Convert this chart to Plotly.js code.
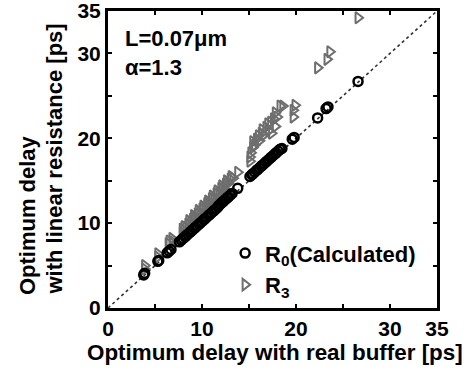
<!DOCTYPE html>
<html>
<head>
<meta charset="utf-8">
<script src="https://cdn.plot.ly/plotly-3.0.1.min.js"></script>
<style>html,body{margin:0;padding:0;background:#fff;}#chart{width:473px;height:371px;}</style>
</head>
<body>
<div id="chart"></div>
<script>
// R0 (Calculated) series
var r0X = [3.8, 3.9, 5.3, 5.4, 6.3, 6.5, 6.7, 7.6, 7.8, 8.0, 8.2, 8.3, 8.5, 8.7, 8.8, 9.0, 9.2, 9.3, 9.5, 9.7, 9.8, 10.0, 10.2, 10.3, 10.5, 10.7, 10.8, 11.0, 11.2, 11.3, 11.5, 11.7, 11.8, 12.0, 12.2, 12.3, 12.5, 12.7, 12.8, 13.0, 13.2, 13.8, 15.1, 15.3, 15.4, 15.6, 15.8, 15.9, 16.1, 16.3, 16.4, 16.6, 16.8, 16.9, 17.1, 17.3, 17.4, 17.6, 17.8, 17.9, 18.1, 18.3, 18.5, 19.6, 19.8, 22.3, 23.2, 23.4, 26.6];
var r0Y = [3.9, 4.1, 5.5, 5.6, 6.5, 6.7, 6.9, 7.8, 8.0, 8.2, 8.4, 8.5, 8.7, 8.9, 9.0, 9.2, 9.4, 9.5, 9.7, 9.9, 10.0, 10.2, 10.4, 10.5, 10.7, 10.9, 11.0, 11.2, 11.4, 11.5, 11.7, 11.9, 12.1, 12.3, 12.5, 12.6, 12.8, 13.0, 13.1, 13.3, 13.5, 14.1, 15.5, 15.7, 15.8, 16.0, 16.2, 16.3, 16.5, 16.7, 16.8, 17.0, 17.2, 17.3, 17.5, 17.7, 17.8, 18.0, 18.2, 18.3, 18.5, 18.7, 18.8, 19.9, 20.1, 22.4, 23.5, 23.7, 26.7];
// R3 series
var r3X = [3.9, 3.9, 5.3, 5.3, 6.4, 6.5, 6.8, 6.9, 7.9, 7.9, 8.1, 8.3, 8.5, 8.6, 8.8, 9.0, 9.1, 9.3, 9.5, 9.6, 9.8, 10.0, 10.1, 10.3, 10.5, 10.6, 10.8, 11.0, 11.1, 11.3, 11.5, 11.6, 11.8, 12.0, 12.1, 12.3, 12.5, 12.6, 12.8, 13.0, 13.1, 13.3, 13.8, 15.1, 15.1, 15.2, 15.4, 15.4, 15.6, 15.8, 16.0, 16.1, 16.3, 16.4, 16.6, 16.8, 17.0, 17.1, 17.3, 17.4, 17.6, 17.8, 17.8, 18.0, 18.3, 18.6, 19.7, 19.7, 19.9, 22.3, 23.3, 23.6, 26.6];
var r3Y = [5.0, 4.6, 6.4, 6.0, 7.6, 7.9, 8.2, 7.8, 9.3, 8.9, 9.6, 9.5, 9.9, 10.3, 10.1, 10.5, 10.9, 10.7, 11.1, 11.5, 11.2, 11.7, 12.0, 11.8, 12.3, 12.6, 12.4, 12.9, 13.2, 12.9, 13.5, 13.8, 13.5, 14.1, 14.4, 14.1, 14.6, 15.0, 14.7, 15.2, 15.5, 15.3, 16.0, 17.3, 17.8, 18.3, 18.9, 19.6, 19.2, 19.9, 20.3, 19.7, 20.6, 21.0, 20.4, 21.3, 21.7, 20.9, 21.9, 20.6, 22.3, 21.4, 23.0, 22.5, 23.8, 23.8, 22.5, 23.3, 23.9, 28.3, 29.3, 30.2, 34.2];
// reference diagonal
var diagX = [0, 35];
var diagY = [0, 35];
var tickVals = [0, 10, 20, 30, 35];
var tickText = ['0', '10', '20', '30', '35'];

var FONT = 'Liberation Sans, Arial, sans-serif';
function bold(size) { return {family: FONT, size: size, color: '#000', weight: 'bold'}; }

var traces = [
  {x: diagX, y: diagY, mode: 'lines', line: {color: '#333', width: 1.6, dash: 'dot'}, showlegend: false, hoverinfo: 'skip'},
  {x: r3X, y: r3Y, mode: 'markers', name: 'R<sub>3</sub>',
   marker: {symbol: 'triangle-right-open', size: 10, color: '#6e6e6e', line: {width: 2, color: '#6e6e6e'}}},
  {x: r0X, y: r0Y, mode: 'markers', name: 'R<sub>0</sub>(Calculated)',
   marker: {symbol: 'circle-open', size: 9, color: '#000', line: {width: 2.5, color: '#000'}}}
];

var axisCommon = {
  range: [0, 35], autorange: false,
  showgrid: false, zeroline: false,
  showline: true, linecolor: '#000', linewidth: 3, mirror: 'ticks',
  ticks: 'inside', ticklen: 4, tickwidth: 2, tickcolor: '#000',
  tickmode: 'array', tickvals: tickVals, ticktext: tickText,
  ticklabeloverflow: 'allow',
  minor: {dtick: 5, tick0: 0, ticks: 'inside', ticklen: 4, tickwidth: 2, tickcolor: '#000'},
  tickfont: bold(21)
};

var layout = {
  width: 473, height: 371,
  margin: {l: 108, r: 36, t: 11, b: 63},
  paper_bgcolor: '#fff', plot_bgcolor: '#fff',
  showlegend: true,
  legend: {x: 0.356, y: 0.255, xanchor: 'left', yanchor: 'top', bgcolor: 'rgba(0,0,0,0)',
           traceorder: 'reversed', tracegroupgap: 0, font: bold(22)},
  xaxis: Object.assign({}, axisCommon, {}),
  yaxis: Object.assign({}, axisCommon, {}),
  annotations: [
    {xref: 'paper', yref: 'paper', x: 0.046, y: 0.955, xanchor: 'left', yanchor: 'top',
     align: 'left', showarrow: false, text: 'L=0.07μm<br>α=1.3', font: bold(22)},
    {xref: 'paper', yref: 'paper', x: 0.508, y: -0.149, xanchor: 'center', yanchor: 'middle',
     showarrow: false, text: 'Optimum delay with real buffer [ps]', font: bold(22.4)},
    {xref: 'paper', yref: 'paper', x: -0.246, y: 0.037, xanchor: 'center', yanchor: 'bottom',
     showarrow: false, textangle: -90, text: 'Optimum delay', font: bold(22)},
    {xref: 'paper', yref: 'paper', x: -0.164, y: 0.037, xanchor: 'center', yanchor: 'bottom',
     showarrow: false, textangle: -90, text: 'with linear resistance [ps]', font: bold(22)}
  ]
};

Plotly.newPlot('chart', traces, layout, {displayModeBar: false, staticPlot: true});
</script>
</body>
</html>
